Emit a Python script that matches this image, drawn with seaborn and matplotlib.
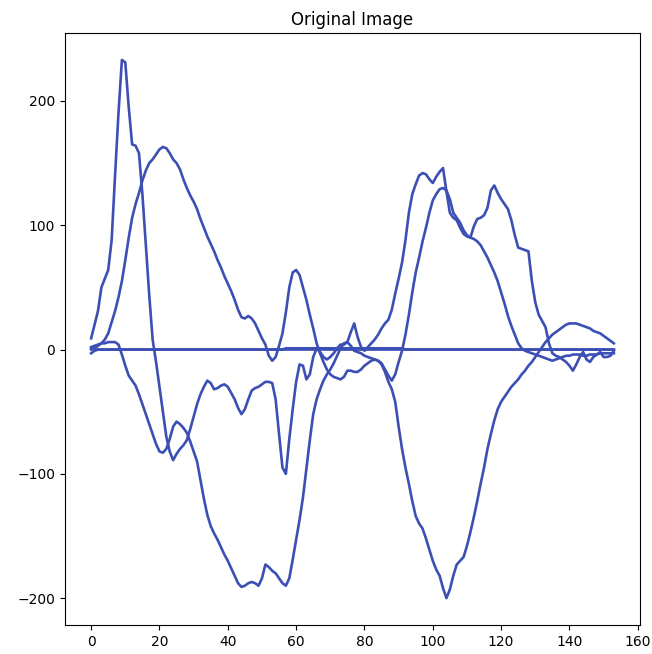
import numpy as np
import pandas as pd
import matplotlib
matplotlib.use("Agg")
import matplotlib.pyplot as plt
import seaborn as sns

# Sample index shared by every channel
steps = list(range(154))

# Channel with the sharp early spike
chan_a = [
    9, 20, 31, 50, 57, 64, 88, 140, 190, 233,
    231, 195, 165, 164, 158, 125, 85, 44, 8, -10,
    -30, -50, -70, -82, -89, -84, -80, -77, -73, -64,
    -54, -44, -36, -30, -25, -27, -32, -31, -29, -28,
    -30, -35, -40, -47, -52, -48, -40, -33, -31, -30,
    -28, -26, -26, -27, -40, -68, -95, -100, -72, -48,
    -26, -12, -13, -24, -20, -6, 1, -2, -6, -8,
    -6, -3, 1, 4, 4, 6, 14, 21, 10, 2,
    -1, 2, 5, 8, 12, 17, 21, 24, 32, 45,
    57, 70, 88, 110, 125, 133, 140, 142, 141, 137,
    134, 139, 143, 146, 127, 110, 106, 104, 98, 93,
    91, 90, 99, 105, 106, 108, 114, 128, 132, 126,
    121, 117, 113, 104, 92, 82, 81, 80, 79, 55,
    38, 28, 23, 18, 5, -3, -5, -6, -8, -10,
    -13, -17, -12, -6, -2, -8, -10, -6, -4, -2,
    -6, -6, -5, -1,
]

# Smooth positive channel
chan_b = [
    0, 1, 3, 5, 8, 13, 22, 31, 42, 55,
    72, 90, 106, 117, 126, 136, 144, 150, 153, 157,
    161, 163, 162, 158, 153, 150, 145, 137, 130, 124,
    119, 113, 105, 98, 91, 85, 79, 72, 66, 59,
    53, 47, 40, 32, 26, 25, 27, 25, 21, 15,
    9, 4, -5, -9, -6, 3, 13, 30, 50, 62,
    64, 60, 50, 40, 28, 17, 5, -3, -10, -16,
    -20, -22, -23, -24, -22, -17, -17, -18, -18, -16,
    -13, -11, -9, -8, -9, -11, -16, -21, -25, -20,
    -10, -1, 12, 28, 46, 62, 74, 87, 98, 110,
    120, 125, 129, 130, 128, 121, 110, 106, 102, 96,
    92, 90, 89, 87, 84, 79, 74, 68, 62, 55,
    46, 37, 27, 19, 12, 5, 1, -1, -2, -3,
    -4, -5, -6, -7, -8, -9, -8, -7, -6, -5,
    -5, -4, -4, -4, -5, -5, -4, -4, -4, -3,
    -3, -3, -3, -3,
]

# Channel with the two deep troughs
chan_c = [
    2, 3, 4, 5, 5, 6, 6, 6, 4, -4,
    -13, -21, -25, -29, -36, -44, -52, -60, -68, -76,
    -82, -83, -80, -72, -62, -58, -60, -63, -67, -74,
    -82, -90, -105, -120, -133, -142, -148, -153, -159, -165,
    -170, -176, -182, -188, -191, -190, -188, -187, -188, -190,
    -184, -173, -175, -178, -180, -184, -188, -190, -184, -169,
    -153, -137, -119, -96, -73, -52, -40, -32, -25, -20,
    -16, -11, -5, 1, 5, 6, 3, -1, -2, -3,
    -5, -6, -7, -8, -9, -12, -18, -26, -32, -42,
    -62, -80, -95, -108, -122, -134, -140, -144, -152, -161,
    -170, -177, -182, -192, -200, -193, -182, -173, -170, -167,
    -158, -147, -135, -122, -108, -95, -80, -68, -57, -48,
    -42, -38, -34, -30, -27, -24, -20, -17, -13, -10,
    -6, -2, 2, 6, 9, 12, 14, 16, 18, 20,
    21, 21, 21, 20, 19, 18, 17, 15, 14, 13,
    11, 9, 7, 5,
]

# Near-flat channels
chan_d = [
    -3, -1, 0, 0, 0, 0, 0, 0, 0, 0, 0, 0, 0, 0, 0, 0, 0, 0, 0, 0,
    0, 0, 0, 0, 0, 0, 0, 0, 0, 0, 0, 0, 0, 0, 0, 0, 0, 0, 0, 0,
    0, 0, 0, 0, 0, 0, 0, 0, 0, 0, 0, 0, 0, 0, 0, 0, 0, 1, 1, 1,
    1, 1, 1, 1, 1, 1, 1, 1, 1, 1, 1, 1, 1, 1, 1, 1, 1, 1, 1, 1,
    1, 1, 1, 1, 1, 1, 1, 1, 1, 1, 1, 1, 0, 0, 0, 0, 0, 0, 0, 0,
    0, 0, 0, 0, 0, 0, 0, 0, 0, 0, 0, 0, 0, 0, 0, 0, 0, 0, 0, 0,
    0, 0, 0, 0, 0, 0, 0, 0, 0, 0, 0, 0, 0, 0, 0, 0, 0, 0, 0, 0,
    0, 0, 0, 0, 0, 0, 0, 0, 0, 0, 0, 0, 0, 0,
]
chan_e = [
    1, 0, 0, 0, 0, 0, 0, 0, 0, 0, 0, 0, 0, 0, 0, 0, 0, 0, 0, 0,
    0, 0, 0, 0, 0, 0, 0, 0, 0, 0, 0, 0, 0, 0, 0, 0, 0, 0, 0, 0,
    0, 0, 0, 0, 0, 0, 0, 0, 0, 0, 0, 0, 0, 0, 0, 0, 0, 0, 0, 0,
    0, 0, 0, 0, 0, 0, 0, 0, 0, 0, 0, 0, 0, 0, 0, 0, 0, 0, 0, 0,
    0, 0, 0, 0, 0, 0, 0, 0, 0, 0, 0, 0, 0, 0, 0, 0, 0, 0, 0, 0,
    0, 0, 0, 0, 0, 0, 0, 0, 0, 0, 0, 0, 0, 0, 0, 0, 0, 0, 0, 0,
    0, 0, 0, 0, 0, 0, 0, 0, 0, 0, 0, 0, 0, 0, 0, 0, 0, 0, 0, 0,
    0, 0, 0, 0, 0, 0, 0, 0, 0, 0, 0, 0, 0, 0,
]

title = "Original Image"
line_color = "#3c4fb4"

channels = {"a": chan_a, "b": chan_b, "c": chan_c, "d": chan_d, "e": chan_e}
frames = []
for name, vals in channels.items():
    frames.append(pd.DataFrame({"step": steps, "value": vals, "channel": name}))
df = pd.concat(frames, ignore_index=True)

fig = plt.figure(figsize=(6.52, 6.54), dpi=100)
ax = fig.add_axes([0.0997, 0.0443, 0.8819, 0.9052])

for name in channels:
    sns.lineplot(data=df[df["channel"] == name], x="step", y="value",
                 color=line_color, linewidth=1.9, estimator=None,
                 sort=False, ax=ax)

ax.set_xlabel("")
ax.set_ylabel("")
ax.set_title(title, fontsize=12)
ax.set_xticks([0, 20, 40, 60, 80, 100, 120, 140, 160])
ax.set_yticks([-200, -100, 0, 100, 200])

fig.savefig("out.png", dpi=100)
